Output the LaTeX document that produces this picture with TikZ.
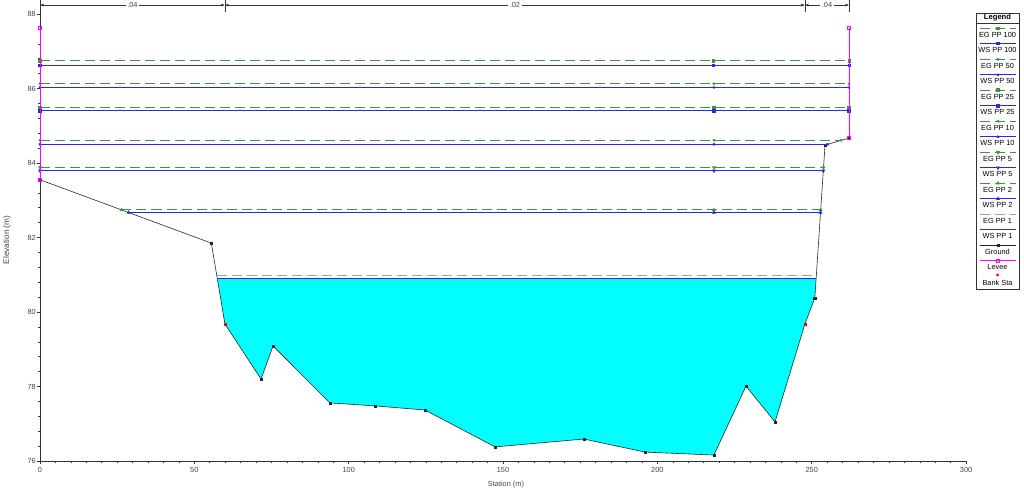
\documentclass[tikz,border=0pt]{standalone}
\usepackage{fontspec}
\setmainfont{Liberation Sans}
\usetikzlibrary{plotmarks,arrows.meta}

\definecolor{wsblue}{RGB}{40,40,235}
\definecolor{eggreen}{RGB}{60,150,60}
\definecolor{egone}{RGB}{150,165,150}
\definecolor{leveemag}{RGB}{255,0,255}
\definecolor{flowcyan}{RGB}{0,255,255}
\definecolor{labgray}{RGB}{70,70,70}

\tikzset{
  wsline/.style={color=wsblue, line width=0.8pt},
  egline/.style={color=eggreen, line width=0.8pt, dash pattern=on 0.3cm off 0.15cm},
  egoneline/.style={egline, color=egone},
  groundline/.style={color=black!85, line width=0.5pt},
  leveeline/.style={color=leveemag, line width=0.7pt},
  axisline/.style={draw=black!80, line width=0.5pt},
  ticklab/.style={labgray, inner sep=0pt},
  nbartip/.style={{Latex[length=3pt,width=2.6pt]}-{Latex[length=3pt,width=2.6pt]}},
  mk100/.style={mark=square*, mark size=0.9pt, mark options={solid}},
  mk50/.style={mark=*, mark size=0.7pt, mark options={solid}},
  mk25/.style={mark=square*, mark size=1.3pt, mark options={solid}},
  mk10/.style={mark=x, mark size=1.2pt, mark options={solid}},
  mk5/.style={mark=triangle*, mark size=1.2pt, mark options={solid, rotate=180}},
  mk2/.style={mark=triangle*, mark size=1.2pt, mark options={solid}},
  mk1/.style={},
  mkground/.style={mark=square*, mark size=0.9pt},
  mklevee/.style={mark=square, mark size=1.3pt, mark options={fill=white}},
}

\begin{document}
\begin{tikzpicture}[x=0.03cm, y=0.03cm, font=\fontsize{6.3}{7.5}\selectfont]
\useasboundingbox[fill=white] (0,0) rectangle (1024,490);

% cross section, station (m) against elevation (m)
\begin{scope}[shift={(1.2cm,-84.06cm)}, x=0.0926cm, y=1.1175cm]
  % flow area below WS PP 1
  \fill[flowcyan] (57.4,80.9) -- (59.9,79.68) -- (71.6,78.2) -- (75.5,79.09)
    -- (93.9,77.56) -- (108.5,77.48) -- (124.7,77.37) -- (147.4,76.38)
    -- (176.2,76.59) -- (196.0,76.24) -- (218.3,76.16) -- (228.7,78.01)
    -- (238.1,77.05) -- (247.8,79.68) -- (251.0,80.38) -- (251.42,80.9) -- cycle;

  % axes
  \draw[axisline] (0,76) -- (300,76);
  \draw[axisline] (0,76) -- (0,88.376);
  \foreach \s in {0,5,...,300}
    \draw[axisline] (\s,76) -- ++(0,-0.06cm);
  \foreach \s in {0,50,...,300} {
    \draw[axisline] (\s,76) -- ++(0,-0.1cm);
    \node[ticklab, anchor=north] (xl\s) at ([yshift=-0.17cm]\s,76) {\s};
  }
  \foreach \el in {76,76.4,...,88}
    \draw[axisline] (0,\el) -- ++(-0.06cm,0);
  \foreach \el in {76,78,...,88} {
    \draw[axisline] (0,\el) -- ++(-0.1cm,0);
    \node[ticklab, anchor=east] (yl\el) at ([xshift=-0.12cm]0,\el) {\el};
  }

  % Manning's n bar
  \coordinate (nb1) at (0,88.24);
  \coordinate (nb2) at (59.9,88.24);
  \coordinate (nb3) at (247.8,88.24);
  \coordinate (nb4) at (262.1,88.24);
  \foreach \s in {0,59.9,247.8,262.1}
    \draw[axisline] (\s,88.054) -- (\s,88.376);
  \draw[axisline, nbartip] (nb1) -- node[ticklab, fill=white, inner xsep=1.5pt] (n1) {.04} (nb2);
  \draw[axisline, nbartip] (nb2) -- node[ticklab, fill=white, inner xsep=1.5pt] (n2) {.02} (nb3);
  \draw[axisline, nbartip] (nb3) -- node[ticklab, fill=white, inner xsep=1.5pt] (n3) {.04} (nb4);

  % ground
  \draw[groundline, mkground] plot coordinates {(0,83.55) (55.5,81.85) (59.9,79.68)
    (71.6,78.2) (75.5,79.09) (93.9,77.56) (108.5,77.48) (124.7,77.37) (147.4,76.38)
    (176.2,76.59) (196.0,76.24) (218.3,76.16) (228.7,78.01) (238.1,77.05)
    (247.8,79.68) (251.0,80.38) (254.3,84.48) (262.1,84.67)};

  % profiles: energy grade (dashed) and water surface
  \foreach \p/\pw/\pe/\wlft/\wrgt/\glft/\grgt in {100/86.63/86.74/0/262.1/0/262.1,
      50/86.03/86.13/0/262.1/0/262.1, 25/85.40/85.49/0/262.1/0/262.1,
      10/84.50/84.61/0/255.1/0/259.6, 5/83.79/83.88/0/253.74/0/253.82,
      2/82.67/82.74/28.7/252.84/26.4/252.9} {
    \draw[egline, mk\p] plot coordinates {(\glft,\pe) (218.3,\pe) (\grgt,\pe)};
    \draw[wsline, mk\p] plot coordinates {(\wlft,\pw) (218.3,\pw) (\wrgt,\pw)};
  }
  \draw[egoneline] (57.28,80.97) -- (251.47,80.97);
  \draw[wsline] (57.4,80.9) -- (251.42,80.9);

  % levees
  \draw[leveeline] (0,83.55) -- (0,87.62);
  \draw[leveeline] (262.1,84.67) -- (262.1,87.62);
  \draw plot[only marks, mark=square*, mark size=1.2pt, mark options={fill=violet!70!black, draw=leveemag}]
    coordinates {(0,83.55) (262.1,84.67)};
  \draw plot[only marks, mark=square, mark size=1.3pt, mark options={leveemag, fill=white}]
    coordinates {(0,87.62) (262.1,87.62)};

  % bank stations
  \draw plot[only marks, mark=square*, mark size=1pt, mark options={red}]
    coordinates {(59.9,79.68) (247.8,79.68)};
\end{scope}

% axis titles
\node[labgray] (xtitle) at (506,5) {Station (m)};
\node[labgray, rotate=90, font=\fontsize{7}{8}\selectfont] (ytitle) at (7,250) {Elevation (m)};

% legend
\draw[black!80, line width=0.5pt] (976,201) rectangle (1019,477);
\draw[black!80, line width=0.5pt] (976,466.5) -- (1019,466.5);
\node[inner sep=0pt, font=\fontsize{6.5}{7.5}\selectfont\bfseries] (legtitle) at (997.5,472) {Legend};
\foreach \k/\lab/\ln/\mk in {0/EG PP 100/egline/mk100, 1/WS PP 100/wsline/mk100,
    2/EG PP 50/egline/mk50, 3/WS PP 50/wsline/mk50, 4/EG PP 25/egline/mk25,
    5/WS PP 25/wsline/mk25, 6/EG PP 10/egline/mk10, 7/WS PP 10/wsline/mk10,
    8/EG PP 5/egline/mk5, 9/WS PP 5/wsline/mk5, 10/EG PP 2/egline/mk2,
    11/WS PP 2/wsline/mk2, 12/EG PP 1/egoneline/mk1, 13/WS PP 1/wsline/mk1,
    14/Ground/groundline/mkground, 15/Levee/leveeline/mklevee} {
  \pgfmathsetmacro{\sy}{490-28.3-15.5*\k}
  \pgfmathsetmacro{\ly}{490-34.8-15.5*\k}
  \draw[\ln, \mk, mark indices={2}] plot coordinates {(980,\sy) (998,\sy) (1016,\sy)};
  \node[inner sep=0pt, black] (leg\k) at (997.5,\ly) {\lab};
}
\draw plot[only marks, mark=*, mark size=1pt, mark options={red}] coordinates {(997.5,215)};
\node[inner sep=0pt] (leg16) at (997.5,207.2) {Bank Sta};
\end{tikzpicture}
\end{document}
